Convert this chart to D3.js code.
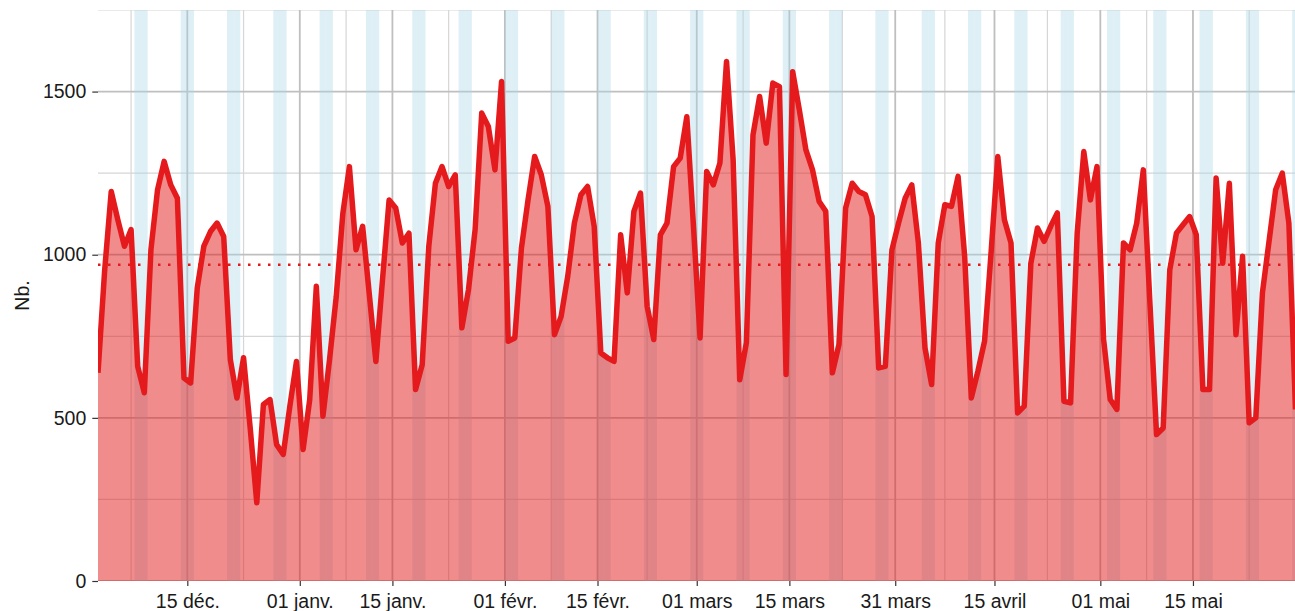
<!DOCTYPE html>
<html>
<head>
<meta charset="utf-8">
<script src="https://cdn.jsdelivr.net/npm/d3@7"></script>
<style>
  body { margin: 0; background: #fff; }
  svg { display: block; font-family: "Liberation Sans", Arial, Helvetica, sans-serif; }
</style>
</head>
<body>
<div id="chart"></div>
<script>
// Daily counts from 1 Dec 2019 to 30 May 2020
const startDay = [2019, 11, 1];
const values = [
  638, 950, 1194, 1107, 1026, 1077, 658, 577, 1015, 1199,
  1286, 1214, 1173, 622, 607, 898, 1026, 1071, 1097, 1056,
  679, 561, 684, 470, 240, 541, 556, 418, 388, 536,
  673, 403, 556, 903, 505, 679, 870, 1125, 1270, 1015,
  1087, 880, 673, 923, 1168, 1143, 1036, 1066, 587, 663,
  1026, 1219, 1270, 1209, 1245, 776, 893, 1077, 1434, 1393,
  1260, 1531, 735, 745, 1020, 1168, 1301, 1245, 1148, 755,
  811, 934, 1097, 1184, 1209, 1087, 699, 684, 673, 1061,
  883, 1133, 1189, 842, 740, 1061, 1097, 1270, 1296, 1423,
  1090, 745, 1255, 1214, 1281, 1592, 1291, 617, 730, 1367,
  1485, 1342, 1526, 1515, 633, 1561, 1444, 1321, 1260, 1163,
  1133, 638, 725, 1143, 1219, 1194, 1184, 1117, 653, 658,
  1015, 1097, 1173, 1214, 1036, 714, 602, 1036, 1153, 1148,
  1240, 994, 561, 643, 735, 1010, 1301, 1107, 1036, 515,
  536, 974, 1082, 1041, 1087, 1128, 551, 546, 1066, 1316,
  1168, 1270, 740, 556, 526, 1036, 1015, 1097, 1260, 850,
  449, 469, 954, 1066, 1092, 1117, 1061, 587, 587, 1235,
  974, 1219, 755, 995, 485, 500, 883, 1041, 1199, 1250,
  1097, 526
];

const tickDates = ["2019-12-15", "2020-01-01", "2020-01-15", "2020-02-01", "2020-02-15",
  "2020-03-01", "2020-03-15", "2020-03-31", "2020-04-15", "2020-05-01", "2020-05-15"];
const tickLabels = ["15 déc.", "01 janv.", "15 janv.", "01 févr.", "15 févr.",
  "01 mars", "15 mars", "31 mars", "15 avril", "01 mai", "15 mai"];
const yTicks = [0, 500, 1000, 1500];
const yMinorTicks = [250, 750, 1250, 1750];

const width = 1295, height = 611;
const margin = { left: 98, right: 0, top: 10, bottom: 30 };

const red = "#e41a1c";

const data = values.map((v, i) => ({
  date: new Date(Date.UTC(startDay[0], startDay[1], startDay[2] + i, 12)),
  value: v
}));

const ticks = tickDates.map(s => new Date(s + "T00:00:00Z"));

const svg = d3.select("#chart").append("svg")
  .attr("width", width)
  .attr("height", height);

const x = d3.scaleUtc()
  .domain(d3.extent(data, d => d.date))
  .range([margin.left, 1295.5]);

const y = d3.scaleLinear()
  .domain([0, 1750])
  .range([581, margin.top]);

const panelW = width - margin.left;
const panelH = y(0) - margin.top;

svg.append("defs").append("clipPath")
  .attr("id", "panel")
  .append("rect")
  .attr("x", margin.left)
  .attr("y", margin.top)
  .attr("width", panelW)
  .attr("height", panelH);

const g = svg.append("g").attr("clip-path", "url(#panel)");

// minor x breaks: midpoints, extended by the first gap like ggplot does
const firstGap = ticks[1] - ticks[0];
const extTicks = [new Date(+ticks[0] - firstGap), ...ticks, new Date(+ticks[ticks.length - 1] + firstGap)];
const xMinor = d3.pairs(extTicks, (a, b) => new Date((+a + +b) / 2));

// grid
g.selectAll(".ygrid-minor")
  .data(yMinorTicks)
  .join("line")
  .attr("x1", margin.left).attr("x2", width)
  .attr("y1", d => y(d)).attr("y2", d => y(d))
  .attr("stroke", "#d6d6d6").attr("stroke-width", 1.2);

g.selectAll(".xgrid-minor")
  .data(xMinor)
  .join("line")
  .attr("x1", d => x(d)).attr("x2", d => x(d))
  .attr("y1", margin.top).attr("y2", y(0))
  .attr("stroke", "#d6d6d6").attr("stroke-width", 1.2);

g.selectAll(".ygrid")
  .data(yTicks)
  .join("line")
  .attr("x1", margin.left).attr("x2", width)
  .attr("y1", d => y(d)).attr("y2", d => y(d))
  .attr("stroke", "#bfbfbf").attr("stroke-width", 1.8);

g.selectAll(".xgrid")
  .data(ticks)
  .join("line")
  .attr("x1", d => x(d)).attr("x2", d => x(d))
  .attr("y1", margin.top).attr("y2", y(0))
  .attr("stroke", "#bfbfbf").attr("stroke-width", 1.8);

// weekend bands (Saturday + Sunday as two rects)
const weekendDays = [];
data.filter(d => d.date.getUTCDay() === 6).forEach(d => {
  const sat = d3.utcDay.floor(d.date);
  weekendDays.push(sat, d3.utcDay.offset(sat, 1));
});

g.selectAll(".weekend")
  .data(weekendDays)
  .join("rect")
  .attr("x", d => x(d))
  .attr("width", d => x(d3.utcDay.offset(d, 1)) - x(d))
  .attr("y", margin.top)
  .attr("height", panelH)
  .attr("fill", "#add8e6")
  .attr("fill-opacity", 0.4);

// area + line
const area = d3.area()
  .x(d => x(d.date))
  .y0(y(0))
  .y1(d => y(d.value));

const line = d3.line()
  .x(d => x(d.date))
  .y(d => y(d.value));

g.append("path")
  .datum(data)
  .attr("d", area)
  .attr("fill", red)
  .attr("fill-opacity", 0.5);

g.append("path")
  .datum(data)
  .attr("d", line)
  .attr("fill", "none")
  .attr("stroke", red)
  .attr("stroke-width", 5.5)
  .attr("stroke-linejoin", "round");

// mean line
const meanValue = d3.mean(values);
g.append("line")
  .attr("x1", margin.left).attr("x2", width)
  .attr("y1", y(meanValue)).attr("y2", y(meanValue))
  .attr("stroke", red)
  .attr("stroke-width", 2.4)
  .attr("stroke-dasharray", "2.5,7.5");

// axes
const labelOf = new Map(ticks.map((t, i) => [+t, tickLabels[i]]));

const xAxis = svg.append("g")
  .attr("transform", `translate(0,${y(0)})`)
  .call(d3.axisBottom(x)
    .tickValues(ticks)
    .tickFormat(d => labelOf.get(+d))
    .tickSize(5)
    .tickPadding(8));

const yAxis = svg.append("g")
  .attr("transform", `translate(${margin.left},0)`)
  .call(d3.axisLeft(y)
    .tickValues(yTicks)
    .tickFormat(d3.format("d"))
    .tickSize(5.7)
    .tickPadding(6));

[xAxis, yAxis].forEach(ax => {
  ax.select(".domain").remove();
  ax.selectAll(".tick line").attr("stroke", "#333").attr("stroke-width", 1.2);
  ax.selectAll(".tick text")
    .attr("fill", "#1a1a1a")
    .style("font-size", "19.5px")
    .style("font-family", '"Liberation Sans", Arial, Helvetica, sans-serif');
});

svg.append("text")
  .attr("transform", `translate(29,${(margin.top + y(0)) / 2}) rotate(-90)`)
  .attr("text-anchor", "middle")
  .attr("fill", "#1a1a1a")
  .style("font-size", "19.5px")
  .text("Nb.");
</script>
</body>
</html>
